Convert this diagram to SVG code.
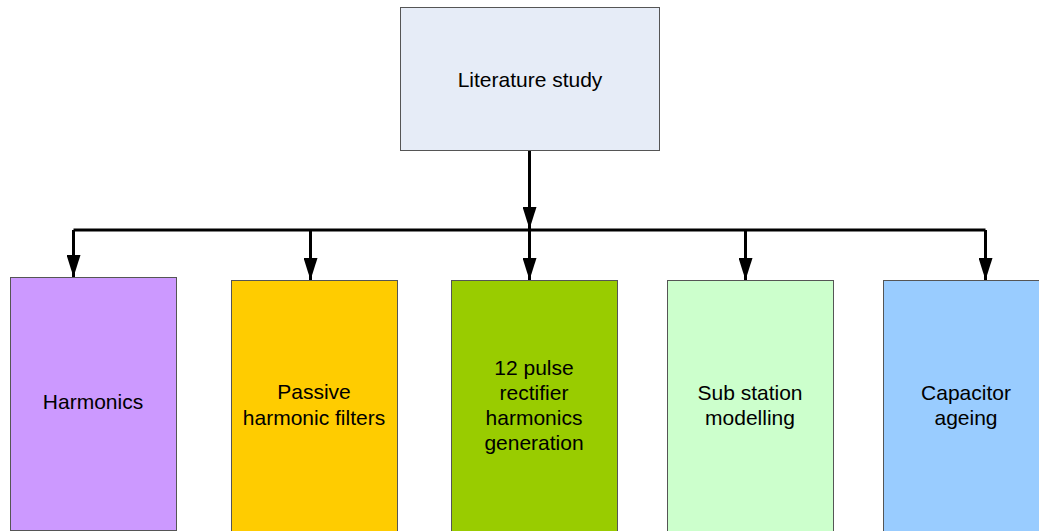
<svg xmlns="http://www.w3.org/2000/svg" width="1039" height="531" viewBox="0 0 1039 531">
<style>
.box{stroke:#555;stroke-width:1}
.t{font-family:"Liberation Sans",Arial,sans-serif;font-size:21px;fill:#000;text-anchor:middle}
.c{stroke:#000;stroke-width:3;fill:none}
</style>
<defs>
<marker id="ah" markerWidth="14" markerHeight="22" refX="7" refY="21" orient="auto-start-reverse" markerUnits="userSpaceOnUse" viewBox="0 0 14 22">
<path d="M0,0 L14,0 L7,22 Z" fill="#000" transform="rotate(-90 7 11)"/>
</marker>
<marker id="a" viewBox="0 0 22 14" refX="22" refY="7" markerWidth="22" markerHeight="14" markerUnits="userSpaceOnUse" orient="auto">
<path d="M0,0 L22,7 L0,14 Z" fill="#000"/>
</marker>
</defs>
<rect width="1039" height="531" fill="#fff"/>
<g id="connectors">
<path class="c" d="M529.5,150 V229" marker-end="url(#a)"/>
<path class="c" d="M73.5,230 H985.5"/>
<path class="c" d="M73.5,230 V277" marker-end="url(#a)"/>
<path class="c" d="M310.5,230 V280" marker-end="url(#a)"/>
<path class="c" d="M529.5,230 V280" marker-end="url(#a)"/>
<path class="c" d="M745.5,230 V280" marker-end="url(#a)"/>
<path class="c" d="M985.5,230 V280" marker-end="url(#a)"/>
</g>
<g id="literature">
<rect class="box" x="400.5" y="7.5" width="259" height="143" fill="#E6ECF7"/>
<text class="t" x="530" y="87">Literature study</text>
</g>
<g id="harmonics">
<rect class="box" x="10.5" y="277.5" width="166" height="253" fill="#CC99FF" stroke="#4B3B5E"/>
<text class="t" x="93" y="409">Harmonics</text>
</g>
<g id="passive">
<rect class="box" x="231.5" y="280.5" width="166" height="260" fill="#FFCC00"/>
<text class="t" x="314" y="399">Passive</text>
<text class="t" x="314" y="425">harmonic filters</text>
</g>
<g id="pulse">
<rect class="box" x="451.5" y="280.5" width="166" height="260" fill="#99CC00"/>
<text class="t" x="534" y="375">12 pulse</text>
<text class="t" x="534" y="400">rectifier</text>
<text class="t" x="534" y="425">harmonics</text>
<text class="t" x="534" y="450">generation</text>
</g>
<g id="substation">
<rect class="box" x="667.5" y="280.5" width="166" height="260" fill="#CCFFCC" stroke="#777"/>
<text class="t" x="750" y="400">Sub station</text>
<text class="t" x="750" y="425">modelling</text>
</g>
<g id="capacitor">
<rect class="box" x="883.5" y="280.5" width="166" height="260" fill="#99CCFF" stroke="#777"/>
<text class="t" x="966" y="400">Capacitor</text>
<text class="t" x="966" y="425">ageing</text>
</g>
</svg>
